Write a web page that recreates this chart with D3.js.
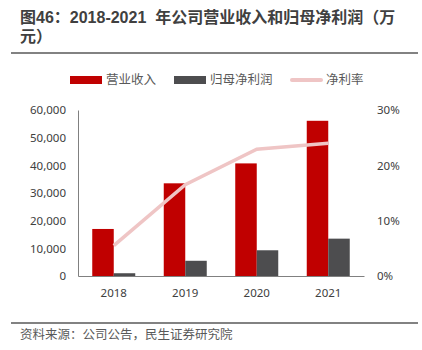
<!DOCTYPE html>
<html>
<head>
<meta charset="utf-8">
<script src="https://cdn.jsdelivr.net/npm/d3@7"></script>
<style>
  html, body { margin: 0; padding: 0; background: #fff; }
  svg { display: block; font-family: "Noto Sans CJK SC", "Noto Sans", sans-serif; }
</style>
</head>
<body>
<div id="chart"></div>
<script>
const years = ["2018", "2019", "2020", "2021"];
const revenue = [17000, 33500, 40700, 56100];
const netProfit = [1000, 5500, 9300, 13500];
const netMargin = [5.5, 16.5, 22.9, 24.0];
const leftTicks = [0, 10000, 20000, 30000, 40000, 50000, 60000];
const rightTicks = [0, 10, 20, 30];

const width = 422, height = 350;
const margin = { top: 110, right: 58, bottom: 74, left: 78 };
const colors = { red: "#c00000", dark: "#4d4d4f", line: "#efc5c5", text: "#404040", axis: "#808080" };

const svg = d3.select("#chart").append("svg")
  .attr("width", width)
  .attr("height", height);

// title, two lines
const titleLines = ["图46：2018-2021  年公司营业收入和归母净利润（万", "元）"];
svg.selectAll(".title").data(titleLines).enter().append("text")
  .attr("class", "title")
  .attr("x", 20)
  .attr("y", (d, i) => 23 + i * 19)
  .attr("fill", "#404040")
  .style("font-family", "'Liberation Sans', 'Noto Sans CJK SC', sans-serif")
  .style("font-size", "16px")
  .style("font-weight", "bold")
  .style("white-space", "pre")
  .text(d => d);

svg.append("line")
  .attr("x1", 11).attr("x2", 418)
  .attr("y1", 53).attr("y2", 53)
  .attr("stroke", "#595959").attr("stroke-width", 1.5);

const innerW = width - margin.left - margin.right;
const innerH = height - margin.top - margin.bottom;
const g = svg.append("g").attr("transform", `translate(${margin.left},${margin.top})`);

const x = d3.scaleBand().domain(years).range([0, innerW]);
const xSub = d3.scaleBand().domain(["rev", "np"]).range([x.bandwidth() / 2 - 21.5, x.bandwidth() / 2 + 21.5]);
const yL = d3.scaleLinear().domain([0, 60000]).range([innerH, 0]);
const yR = d3.scaleLinear().domain([0, 30]).range([innerH, 0]);

// bars
g.selectAll(".rev").data(years).enter().append("rect")
  .attr("class", "rev")
  .attr("x", d => x(d) + xSub("rev"))
  .attr("width", xSub.bandwidth())
  .attr("y", (d, i) => yL(revenue[i]))
  .attr("height", (d, i) => innerH - yL(revenue[i]))
  .attr("fill", colors.red);

g.selectAll(".np").data(years).enter().append("rect")
  .attr("class", "np")
  .attr("x", d => x(d) + xSub("np"))
  .attr("width", xSub.bandwidth())
  .attr("y", (d, i) => yL(netProfit[i]))
  .attr("height", (d, i) => innerH - yL(netProfit[i]))
  .attr("fill", colors.dark);

// margin line
const line = d3.line()
  .x((d, i) => x(years[i]) + x.bandwidth() / 2)
  .y(d => yR(d));
g.append("path")
  .datum(netMargin)
  .attr("fill", "none")
  .attr("stroke", colors.line)
  .attr("stroke-width", 3.5)
  .attr("d", line);

// axes
const leftAxis = g.append("g")
  .call(d3.axisLeft(yL).tickValues(leftTicks).tickFormat(d3.format(",")).tickSize(0).tickPadding(12));
leftAxis.select(".domain").attr("stroke", colors.axis);

const rightAxis = g.append("g")
  .attr("transform", `translate(${innerW},0)`)
  .call(d3.axisRight(yR).tickValues(rightTicks).tickFormat(d => d + "%").tickSize(0).tickPadding(13));
rightAxis.select(".domain").remove();

const bottomAxis = g.append("g")
  .attr("transform", `translate(0,${innerH})`)
  .call(d3.axisBottom(x).tickSize(0).tickPadding(13));
bottomAxis.select(".domain").attr("stroke", colors.axis);

svg.selectAll(".tick text")
  .attr("fill", colors.text)
  .style("font-size", "11.5px")
  .style("font-family", "'Noto Sans', sans-serif");

// legend
const legend = svg.append("g").attr("transform", "translate(0,80)");
const legendItems = [
  { label: "营业收入", type: "rect", color: colors.red, x: 70 },
  { label: "归母净利润", type: "rect", color: colors.dark, x: 174 },
  { label: "净利率", type: "line", color: colors.line, x: 290 }
];
legendItems.forEach(it => {
  if (it.type === "rect") {
    legend.append("rect")
      .attr("x", it.x).attr("y", -4).attr("width", 32).attr("height", 8)
      .attr("fill", it.color);
  } else {
    legend.append("line")
      .attr("x1", it.x + 2).attr("x2", it.x + 31).attr("y1", 0).attr("y2", 0)
      .attr("stroke", it.color).attr("stroke-width", 4).attr("stroke-linecap", "round");
  }
  legend.append("text")
    .attr("x", it.x + 36).attr("y", 0)
    .attr("dy", "0.35em")
    .attr("fill", "#595959")
    .style("font-size", "12.5px")
    .text(it.label);
});

// footer
svg.append("line")
  .attr("x1", 11).attr("x2", 418)
  .attr("y1", 323).attr("y2", 323)
  .attr("stroke", "#595959").attr("stroke-width", 1.5);
svg.append("text")
  .attr("x", 20).attr("y", 335)
  .attr("dy", "0.35em")
  .attr("fill", "#595959")
  .style("font-size", "12.5px")
  .text("资料来源：公司公告，民生证券研究院");
</script>
</body>
</html>
